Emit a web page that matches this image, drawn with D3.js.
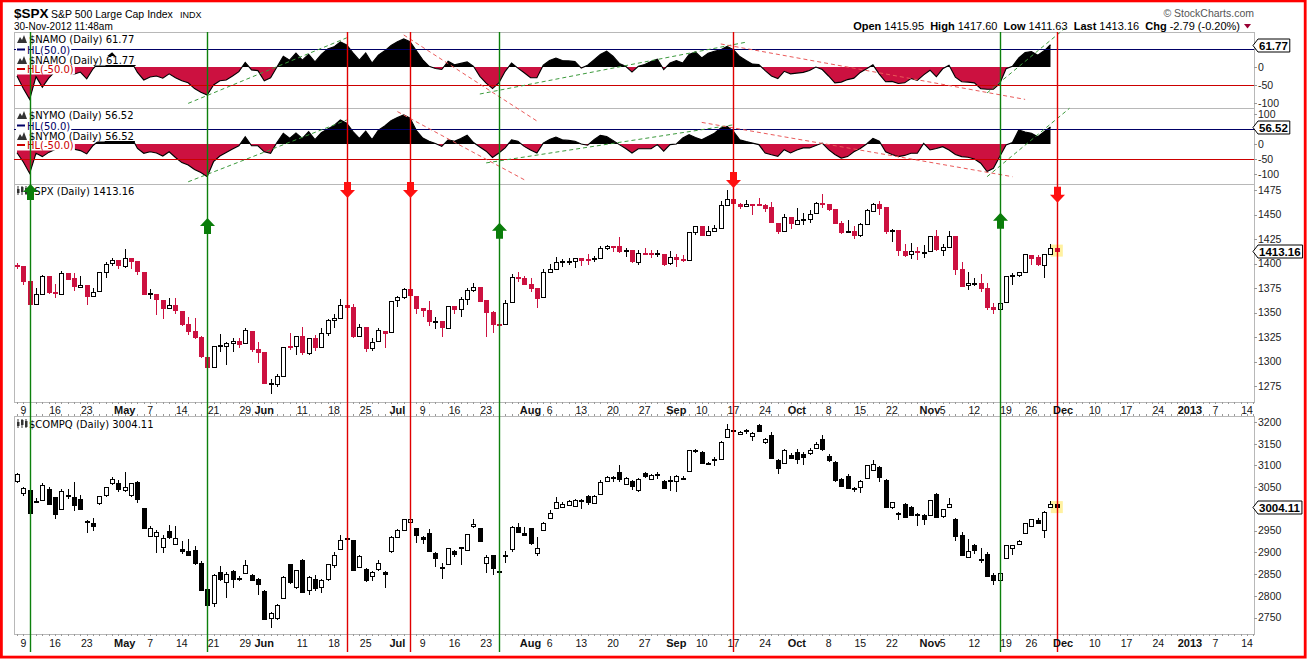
<!DOCTYPE html>
<html>
<head>
<meta charset="utf-8">
<script src="https://cdn.jsdelivr.net/npm/d3@7"></script>
<style>
body{margin:0;background:#fff}
svg{display:block;font-family:"Liberation Sans",Arial,sans-serif}
.lbl{font-family:"DejaVu Sans",Verdana,sans-serif;font-size:10px}
</style>
</head>
<body>
<svg id="chart" width="1308" height="659"></svg>
<script>
// trading calendar
var holidays = ['2012-04-06','2012-05-28','2012-07-04','2012-09-03','2012-10-29','2012-10-30','2012-11-22','2012-12-25']

// $SPX daily OHLC, 5-Apr-2012 .. 30-Nov-2012
var spxOpen = [1398.8,1397.5,1382,1359,1368.8,1387,1371,1369.6,1390.8,1385.1,
  1376.9,1378.5,1366.9,1372,1390.6,1400,1403.3,1397.9,1405.5,1402.3,
  1391.5,1368.8,1369.2,1363.2,1354.6,1358,1351.9,1338,1330.8,1324.8,
  1305,1295,1316,1316,1318.9,1320.8,1318.9,1331.3,1313,1309.9,
  1278.3,1277.8,1285.6,1316.1,1315,1325.7,1309.4,1324,1314.9,1329.2,
  1342.4,1344.8,1358,1355.4,1325.9,1334.9,1314.1,1320.6,1331.5,1330.1,
  1362.3,1365.8,1373.7,1367.1,1354.7,1353,1341.4,1341,1334.8,1356.5,
  1353.7,1363.6,1373,1376.5,1362.3,1350.5,1338,1338.2,1360,1385.9,
  1385.3,1379.3,1375.1,1365,1391,1394.5,1401.2,1402.3,1402.6,1405.9,
  1404.4,1404,1405.8,1415.8,1418.2,1418.1,1413.1,1413.5,1402,1411.1,
  1410.4,1409.3,1410.1,1400.1,1406.5,1404.9,1403.7,1432.1,1437.9,1429.1,
  1433.6,1436.6,1460.1,1465.4,1461.2,1459.5,1461,1460.3,1459.8,1457.2,
  1441.6,1433.4,1447.1,1440.9,1445,1446,1451.1,1461.4,1460.9,1455.9,
  1441.5,1432.8,1432.8,1428.8,1440.3,1454.2,1460.9,1457.3,1433.2,1433.7,
  1413.2,1409.7,1413,1411,1412.2,1427.6,1414,1417.3,1428.3,1394.5,
  1377.6,1379.9,1380,1374.6,1355.4,1353.4,1359.9,1386.8,1387.8,1391,
  1409,1406.3,1398.8,1410,1415.95]
var spxHigh = [1401,1397.5,1383,1374.7,1388,1387,1379,1392,1390.8,1390,
  1387,1378.5,1375,1391,1402,1406,1403.3,1415,1405.5,1403,
  1391.5,1373.5,1369.2,1363.2,1365,1365,1351.9,1345,1344,1326,
  1312,1316,1328,1320,1324,1324,1334.6,1331.3,1319.7,1309.9,
  1282,1287.6,1315,1329,1325.8,1335,1324.3,1327.3,1333.7,1343.3,
  1348.2,1363.5,1361.6,1358.3,1337.8,1334.9,1324.2,1334.4,1331.5,1362.2,
  1366.4,1374.8,1373.9,1367.1,1354.9,1361.5,1345,1341,1357,1357,
  1365.4,1375.3,1380.4,1376.5,1362.3,1351.5,1343.9,1363,1389.2,1391.7,
  1387.2,1385,1375.1,1394.2,1399.6,1407,1404.1,1405.9,1406,1405.9,
  1410,1407.7,1417.4,1418.7,1418.2,1426.7,1416.1,1413.5,1413.5,1416.2,
  1413.6,1413.9,1410.1,1413.1,1409.3,1408.8,1432.1,1437.9,1438.7,1437.8,
  1439.2,1463.8,1474.5,1465.6,1461.5,1465.2,1461,1467.1,1460.7,1463.2,
  1441.6,1450.2,1447.1,1457.1,1451.5,1454.3,1463.1,1471,1460.9,1455.9,
  1442.9,1443.9,1438.4,1441,1455.5,1462.2,1464,1457.3,1435.5,1433.7,
  1420,1421.1,1417.1,1418.8,1428.4,1434.3,1419.9,1433.4,1428.3,1401.2,
  1391.4,1384.9,1388.8,1380.1,1359.9,1362.1,1386.9,1389.8,1391.3,1409.2,
  1409,1409,1410,1419.7,1417.6]
var spxLow = [1394,1378,1358,1358,1368,1369,1365,1369,1383,1372,
  1376,1358,1366,1372,1385,1397,1394,1395,1394,1388,
  1367.9,1363.5,1347,1343,1354,1348,1336,1327,1323,1304,
  1291,1295,1310,1296,1310,1314,1318,1310,1298,1277,
  1266.7,1274,1285.6,1312,1307,1307,1306.6,1310.5,1314.1,1325.8,
  1334,1344.8,1346,1324.4,1325.9,1309.3,1310.3,1320.6,1313.3,1330.1,
  1355.7,1363.5,1363,1348,1345,1336,1333,1325.4,1334.8,1348,
  1345,1358,1371.2,1362.2,1325.4,1329.2,1331.5,1338,1360,1381.4,
  1379.2,1371,1354.6,1365,1391,1394.5,1396.6,1398.8,1395.6,1397.3,
  1398.8,1401.5,1404.2,1414,1412,1410.9,1406.8,1400.5,1398,1409.1,
  1405.6,1406.2,1397,1398,1396.6,1401.3,1403.7,1429,1429,1429.1,
  1433,1435,1460.1,1454.8,1456.1,1457.9,1450,1459.5,1452.1,1441.6,
  1430.5,1433.4,1435.2,1440.9,1439,1441,1451,1456.9,1453.1,1441.2,
  1430.6,1432.3,1425.5,1427,1440.3,1453.4,1450,1430,1422,1407.6,
  1407.1,1405.1,1403.3,1406,1412.2,1412.9,1408.1,1417.3,1388.1,1377.5,
  1373,1377.2,1370.9,1352.5,1348.8,1343.4,1359.9,1377.9,1386.4,1391,
  1398,1397.7,1385.4,1410,1411.63]
var spxClose = [1398.1,1382.2,1358.6,1368.7,1387.6,1370.3,1369.6,1390.8,1385.1,1376.9,
  1378.5,1366.9,1371.1,1391,1399,1403.4,1397.9,1405.8,1402.3,1391.6,
  1369.1,1369.6,1363.7,1354.6,1358,1353.4,1338.4,1330.7,1324.8,1305,
  1295.2,1316,1316.6,1318.9,1320.7,1317.8,1332.4,1313.3,1310.3,1278,
  1278.2,1285.5,1315.1,1315,1325.7,1308.9,1324.2,1314.9,1329.1,1342.8,
  1344.8,1358,1355.7,1325.5,1335,1313.7,1320,1331.9,1329,1362.2,
  1365.5,1374,1367.6,1354.7,1352.5,1341.5,1341.5,1334.8,1356.8,1353.6,
  1363.7,1372.8,1376.5,1362.7,1350.5,1338.3,1337.9,1360,1386,1385.3,
  1379.3,1375.1,1365,1391,1394.2,1401.4,1402.2,1402.8,1405.9,1404.1,
  1403.9,1405.5,1415.5,1418.2,1418.1,1413.2,1413.5,1402.1,1411.1,1410.4,
  1409.3,1410.5,1399.5,1406.6,1404.9,1403.4,1432.1,1437.9,1429.1,1433.6,
  1436.6,1460,1465.8,1461.2,1459.3,1461.1,1460.3,1460.2,1456.9,1441.6,
  1433.3,1447.2,1440.7,1444.5,1445.8,1451,1461.4,1460.9,1455.9,1441.5,
  1432.6,1432.8,1428.6,1440.1,1454.9,1460.9,1457.3,1433.2,1433.8,1413.1,
  1408.8,1413,1411.9,1412.2,1427.6,1414.2,1417.3,1428.4,1394.5,1377.5,
  1379.9,1380,1374.5,1355.5,1353.3,1359.9,1386.9,1387.8,1391,1409.2,
  1406.3,1398.9,1409.9,1416,1413.16]

// $COMPQ daily OHLC
var compOpen = [3063,3036,3044,3019,3021,3045,3027,3001,3031,3027,
  3022,2971,2967,3013,3032,3059,3059,3042,3032,3063,
  3001,2938,2938,2913,2948,2919,2907,2902,2905,2876,
  2816,2783,2854,2831,2857,2840,2852,2848,2838,2811,
  2748,2748,2796,2872,2821,2882,2815,2838,2821,2838,
  2872,2909,2932,2928,2866,2862,2844,2861,2854,2902,
  2936,2950,2969,2955,2935,2944,2898,2866,2872,2902,
  2912,2905,2961,2955,2877,2894,2857,2895,2907,2958,
  2944,2955,2899,2950,2978,3001,3004,3009,3008,3021,
  3030,3013,3036,3065,3073,3084,3059,3065,3044,3082,
  3068,3079,3065,3067,3063,3072,3086,3134,3130,3105,
  3113,3117,3165,3182,3173,3179,3167,3193,3153,3169,
  3113,3105,3124,3130,3126,3130,3141,3160,3122,3107,
  3068,3076,3047,3051,3072,3091,3096,3067,3005,2990,
  3011,3005,2988,2986,2986,3034,2982,3003,2977,2941,
  2890,2917,2884,2896,2848,2838,2886,2911,2918,2944,
  2961,2975,2951,3006,3012]
var compHigh = [3082,3051,3046,3024,3059,3050,3028,3045,3045,3061,
  3032,2975,2978,3030,3051,3074,3066,3086,3060,3064,
  3002,2960,2952,2940,2962,2961,2925,2930,2915,2879,
  2818,2850,2868,2855,2860,2845,2882,2850,2840,2813,
  2763,2782,2846,2873,2860,2884,2845,2847,2838,2874,
  2901,2940,2933,2929,2894,2865,2858,2882,2857,2937,
  2954,2977,2979,2957,2937,2953,2900,2875,2910,2905,
  2913,2943,2976,2957,2893,2895,2858,2904,2961,2967,
  2959,2957,2935,2970,2997,3027,3016,3021,3022,3022,
  3033,3031,3066,3076,3075,3101,3074,3066,3071,3085,
  3081,3086,3066,3075,3079,3075,3136,3137,3134,3109,
  3119,3157,3195,3184,3180,3185,3178,3196,3164,3177,
  3115,3138,3128,3137,3130,3140,3155,3170,3126,3110,
  3070,3080,3050,3066,3102,3113,3098,3068,3016,2993,
  3014,3007,2990,2988,3021,3036,3000,3024,2979,2946,
  2930,2920,2909,2900,2852,2854,2917,2918,2929,2968,
  2977,2978,2994,3018,3015]
var compLow = [3060,3030,2990,3013,3018,3010,2976,3000,3022,2996,
  2999,2945,2950,3010,3027,3055,3040,3040,3027,3014,
  2955,2936,2899,2899,2930,2918,2897,2891,2870,2811,
  2775,2774,2834,2794,2817,2835,2850,2836,2802,2746,
  2725,2744,2795,2828,2815,2807,2802,2812,2807,2835,
  2865,2905,2925,2857,2864,2832,2833,2858,2817,2898,
  2934,2948,2966,2921,2920,2900,2866,2838,2871,2890,
  2871,2903,2957,2925,2852,2848,2850,2875,2900,2945,
  2938,2916,2891,2948,2976,3000,3003,3007,3006,3000,
  3008,3011,3034,3063,3061,3062,3057,3044,3039,3072,
  3066,3068,3046,3042,3040,3066,3085,3128,3103,3102,
  3098,3115,3163,3178,3171,3173,3156,3178,3150,3116,
  3080,3103,3114,3103,3101,3125,3139,3134,3109,3063,
  3050,3046,3038,3037,3070,3089,3063,3004,2999,2975,
  2980,2983,2960,2964,2985,2980,2980,3001,2925,2895,
  2888,2896,2875,2846,2825,2836,2885,2895,2916,2942,
  2959,2966,2934,3004,3003]
var compClose = [3080,3047,2991,3016,3055,3011,2988,3042,3031,3008,
  3000,2970,2961,3029,3050,3069,3046,3050,3059,3024,
  2956,2957,2947,2934,2934,2933,2902,2893,2874,2813,
  2779,2848,2839,2850,2839,2838,2871,2837,2827,2747,
  2760,2779,2844,2831,2859,2809,2844,2818,2836,2872,
  2895,2929,2930,2859,2892,2836,2854,2875,2850,2935,
  2951,2976,2976,2938,2931,2902,2887,2866,2909,2896,
  2910,2942,2965,2926,2890,2863,2854,2893,2958,2946,
  2940,2920,2910,2967,2990,3015,3011,3018,3021,3021,
  3016,3030,3063,3074,3074,3067,3072,3053,3069,3074,
  3077,3081,3049,3067,3075,3069,3135,3136,3104,3104,
  3114,3155,3183,3179,3177,3182,3175,3180,3160,3117,
  3094,3136,3116,3113,3120,3136,3150,3136,3112,3065,
  3052,3049,3044,3064,3101,3104,3072,3006,3016,2990,
  2981,2986,2987,2977,3020,2982,2999,3011,2937,2896,
  2904,2905,2881,2846,2836,2853,2916,2917,2926,2967,
  2976,2968,2992,3012,3004.11]

// breadth oscillators, through 29-Nov
var namo = [-25,-60,-90,-27,-56,-31,-13,0,-13,-20,
  -14,-33,-5,15,25,39,20,16,16,-15,
  -36,-28,-25,-31,-19,-30,-38,-44,-60,-70,
  -78,-50,-38,-36,-25,-13,13,-8,-10,-38,
  -30,0,30,19,39,19,35,14,35,50,
  56,70,61,39,19,39,11,33,45,60,
  70,78,70,45,20,2,-4,-7,16,6,
  10,14,2,-26,-45,-60,-44,-12,11,-3,
  -16,-30,-30,5,18,25,18,17,15,-3,
  5,20,35,44,30,10,2,-14,2,7,
  15,22,-7,11,18,11,35,42,25,38,
  44,48,57,48,29,18,8,7,-10,-25,
  -32,-12,-19,-17,-15,-10,0,-7,-25,-44,
  -42,-35,-31,-15,-5,6,-20,-41,-40,-46,
  -44,-32,-37,-22,-9,-27,-5,5,-28,-41,
  -42,-44,-60,-62,-62,-46,-5,2,25,40,
  43,33,45,61.77]
var nymo = [-29,-60,-98,-31,-42,-28,-18,-6,-12,-17,
  -22,-33,-5,12,25,35,28,30,25,-15,
  -31,-26,-30,-40,-26,-45,-62,-70,-85,-95,
  -109,-59,-40,-28,-17,-6,24,-6,-6,-26,
  -31,5,36,19,37,19,41,15,38,50,
  62,80,69,41,19,43,15,46,60,78,
  88,97,86,45,20,9,2,-8,14,9,
  18,29,5,-10,-24,-45,-30,-13,14,9,
  -8,-20,-30,3,15,23,14,12,9,0,
  -4,14,29,25,12,-2,-15,-30,-16,-16,
  -16,-2,-24,-2,0,20,31,22,14,25,
  36,53,59,42,14,8,3,-2,-30,-36,
  -41,-19,-30,-20,-13,-13,-5,3,-19,-35,
  -47,-42,-26,-15,0,19,9,-26,-35,-42,
  -38,-31,-31,2,-20,-15,-9,-20,-35,-42,
  -44,-50,-64,-92,-81,-42,-3,5,47,40,
  36,24,41,56.52]

// dashed trend lines: [fromDay, fromValue, toDay, toValue, colour]
var namoTrends = [[27,-101,52,81,'g'],[61,89,82,-150,'r'],[73,-75,115,69,'g'],[111,64,159,-90,'r'],[153,-72,165.6,112,'g']]
var nymoTrends = [[27,-126,52,80,'g'],[60,108,80,-119,'r'],[74,-63,113,64,'g'],[108,72,157,-109,'r'],[153,-109,166,119,'g']]

// buy / sell signals; arrow tip in $SPX points
var signalDates = ['2012-04-10','2012-05-18','2012-06-20','2012-07-05','2012-07-25','2012-09-17','2012-11-16','2012-11-30']
var signalSide = ['buy','buy','sell','sell','buy','sell','buy','sell']
var arrowTips = [1481,1446.4,1466.8,1466.8,1441.6,1477,1451.8,1462]

var xTicks = [['2012-04-09','9'],['2012-04-16','16'],['2012-04-23','23'],['2012-05-01','May'],['2012-05-07','7'],
  ['2012-05-14','14'],['2012-05-21','21'],['2012-05-29','29'],['2012-06-01','Jun'],['2012-06-11','11'],
  ['2012-06-18','18'],['2012-06-25','25'],['2012-07-02','Jul'],['2012-07-09','9'],['2012-07-16','16'],
  ['2012-07-23','23'],['2012-08-01','Aug'],['2012-08-06','6'],['2012-08-13','13'],['2012-08-20','20'],
  ['2012-08-27','27'],['2012-09-04','Sep'],['2012-09-10','10'],['2012-09-17','17'],['2012-09-24','24'],
  ['2012-10-01','Oct'],['2012-10-08','8'],['2012-10-15','15'],['2012-10-22','22'],['2012-11-01','Nov'],
  ['2012-11-05','5'],['2012-11-12','12'],['2012-11-19','19'],['2012-11-26','26'],['2012-12-03','Dec'],
  ['2012-12-10','10'],['2012-12-17','17'],['2012-12-24','24'],['2013-01-01','2013'],['2013-01-07','7'],['2013-01-14','14']]

var namoTicks = [50,0,-50,-100]
var nymoTicks = [100,50,0,-50,-100]
var spxTicks = [1275,1300,1325,1350,1375,1400,1425,1450,1475]
var compTicks = [2750,2800,2850,2900,2950,3000,3050,3100,3150,3200]

var quote = [['Open','1415.95'],['High','1417.60'],['Low','1411.63'],['Last','1413.16'],['Chg','-2.79 (-0.20%)']]


var fmt = d3.utcFormat('%Y-%m-%d')
var days = d3.utcDays(new Date(Date.UTC(2012,3,5)), new Date(Date.UTC(2013,0,19)))
  .filter(d => d.getUTCDay() % 6 != 0 && holidays.indexOf(fmt(d)) < 0)
var dayIndex = {}
days.forEach((d, i) => dayIndex[fmt(d)] = i)

var RED = '#cc1140'
var L = 14, R = 1254
var svg = d3.select('#chart')
svg.append('rect').attr('width', 1308).attr('height', 659).attr('fill', '#fff')

var x = d3.scaleLinear().domain([-0.47, 195.1]).range([L, R])
var px = i => Math.round(x(i)) + 0.5

var yNamo = d3.scaleLinear().domain([-100, 100]).range([103, 31])
var yNymo = d3.scaleLinear().domain([-100, 100]).range([174, 114])
var ySpx = d3.scaleLinear().domain([1275, 1475]).range([386, 190])
var yComp = d3.scaleLinear().domain([2750, 3200]).range([617.5, 422])

var panels = [[32, 108], [108, 184], [184, 402], [416, 634]]
panels.forEach(([t, b]) => {
  svg.append('rect').attr('x', L + 0.5).attr('y', t + 0.5).attr('width', R - L).attr('height', b - t)
    .attr('fill', 'none').attr('stroke', '#b8b8b8')
})

// day ticks on price panels
;[402, 416, 634].forEach(yy => {
  svg.append('g').selectAll('line').data(d3.range(0, 196)).join('line')
    .attr('x1', px).attr('x2', px).attr('y1', yy).attr('y2', yy + (yy == 416 ? -2 : 2))
    .attr('stroke', '#999').attr('shape-rendering', 'crispEdges')
})

function mountain(g, x0, yb){
  g.append('path').attr('d', `M${x0},${yb} L${x0+3},${yb-6} L${x0+5},${yb-3} L${x0+7},${yb-8} L${x0+10},${yb} Z`)
    .attr('fill', '#333')
}

// a legend row on a white ground
function labelRow(draw){
  var g = svg.append('g'), inner = g.append('g')
  draw(inner)
  var b = inner.node().getBBox()
  g.insert('rect', 'g').attr('x', b.x - 1).attr('y', b.y + 1).attr('width', b.width + 2).attr('height', b.height - 1.5)
    .attr('fill', '#fff')
}

function osc(vals, y, top, bottom, id, name, trends){
  var last = vals[vals.length - 1]
  var y0 = y(0)
  var defs = svg.append('defs')
  defs.append('clipPath').attr('id', id + 'Up').append('rect')
    .attr('x', L).attr('y', top).attr('width', R - L).attr('height', y0 - top)
  defs.append('clipPath').attr('id', id + 'Dn').append('rect')
    .attr('x', L).attr('y', y0).attr('width', R - L).attr('height', bottom - y0)

  var area = d3.area().x((d, i) => x(i)).y0(y0).y1(d => y(d))
  var line = d3.line().x((d, i) => x(i)).y(d => y(d))
  svg.append('path').datum(vals).attr('d', area).attr('fill', '#000').attr('clip-path', `url(#${id}Up)`)
  svg.append('path').datum(vals).attr('d', area).attr('fill', RED).attr('clip-path', `url(#${id}Dn)`)
  svg.append('path').datum(vals).attr('d', line).attr('fill', 'none').attr('stroke', '#000').attr('stroke-width', 1.1)

  ;[[50, '#000066'], [-50, '#cc0000']].forEach(([v, c]) => {
    svg.append('line').attr('x1', L).attr('x2', R).attr('y1', Math.round(y(v)) + 0.5).attr('y2', Math.round(y(v)) + 0.5)
      .attr('stroke', c)
  })

  svg.append('g').selectAll('line').data(trends).join('line')
    .attr('x1', d => x(d[0])).attr('y1', d => y(d[1])).attr('x2', d => x(d[2])).attr('y2', d => y(d[3]))
    .attr('stroke', d => d[4] == 'g' ? '#3c9a3c' : '#ea5a5a').attr('stroke-dasharray', '4,3')

  labelRow(g => {
    mountain(g, 17, top + 11)
    g.append('text').attr('class', 'lbl').attr('x', 29).attr('y', top + 11).text(`${name} (Daily) ${last}`)
  })
  labelRow(g => {
    g.append('line').attr('x1', 17).attr('x2', 25).attr('y1', top + 17.5).attr('y2', top + 17.5).attr('stroke', '#000066').attr('stroke-width', 2)
    g.append('text').attr('class', 'lbl').attr('x', 27).attr('y', top + 21.5).attr('fill', '#000066').text('HL(50.0)')
  })
  labelRow(g => {
    mountain(g, 17, top + 32)
    var t = g.append('text').attr('class', 'lbl').attr('x', 29).attr('y', top + 32).text(`${name} (Daily)`)
    var w = t.node().getComputedTextLength() + 3.5
    var v = g.append('text').attr('class', 'lbl').attr('x', 29 + w).attr('y', top + 32).text(last)
    var vw = v.node().getComputedTextLength()
    g.append('line').attr('x1', 28.5 + w).attr('x2', 30 + w + vw).attr('y1', top + 33.5).attr('y2', top + 33.5).attr('stroke', '#000')
  })
  labelRow(g => {
    g.append('line').attr('x1', 17).attr('x2', 25).attr('y1', top + 37).attr('y2', top + 37).attr('stroke', '#cc0000').attr('stroke-width', 2)
    g.append('text').attr('class', 'lbl').attr('x', 27).attr('y', top + 41).attr('fill', '#cc0000').text('HL(-50.0)')
  })
}

osc(namo, yNamo, 32, 108, 'namo', '$NAMO', namoTrends)
osc(nymo, yNymo, 108, 184, 'nymo', '$NYMO', nymoTrends)

function candles(O, H, Lo, C, y, colorFn){
  var idx = d3.range(C.length)
  var n = C.length - 1
  svg.append('rect').attr('x', x(n) - 6).attr('y', y(C[n]) - 6).attr('width', 12).attr('height', 12).attr('fill', '#fff1a0')
  var g = svg.append('g').attr('shape-rendering', 'crispEdges')
  g.selectAll('line').data(idx).join('line')
    .attr('x1', px).attr('x2', px).attr('y1', i => y(H[i])).attr('y2', i => y(Lo[i]))
    .attr('stroke', colorFn)
  g.selectAll('rect').data(idx).join('rect')
    .attr('x', i => px(i) - 2).attr('width', 4)
    .attr('y', i => Math.round(y(Math.max(O[i], C[i]))) + 0.5)
    .attr('height', i => Math.max(1, Math.round(Math.abs(y(O[i]) - y(C[i])))))
    .attr('fill', i => C[i] < O[i] ? colorFn(i) : '#fff')
    .attr('stroke', colorFn)
}

candles(spxOpen, spxHigh, spxLow, spxClose, ySpx, i => spxClose[i] < (i ? spxClose[i - 1] : spxOpen[i]) ? RED : '#000')
candles(compOpen, compHigh, compLow, compClose, yComp, i => '#000')

// price panel labels
function candleIcon(x0, yb){
  ;[[0, 3, 7], [4, 1, 6], [8, 2, 8]].forEach(([dx, a, b]) => {
    svg.append('line').attr('x1', x0 + dx + 1).attr('x2', x0 + dx + 1).attr('y1', yb - 9).attr('y2', yb).attr('stroke', '#333')
    svg.append('rect').attr('x', x0 + dx).attr('y', yb - 9 + a).attr('width', 2.5).attr('height', b - a).attr('fill', '#333')
  })
}
candleIcon(17, 195)
svg.append('text').attr('class', 'lbl').attr('x', 28).attr('y', 195).text('$SPX (Daily) ' + spxClose[spxClose.length - 1])
candleIcon(17, 428)
svg.append('text').attr('class', 'lbl').attr('x', 29).attr('y', 428).text('$COMPQ (Daily) ' + compClose[compClose.length - 1])

// signal lines and arrows
signalDates.forEach((d, k) => {
  var i = dayIndex[d]
  svg.append('line').attr('x1', px(i)).attr('x2', px(i)).attr('y1', 32).attr('y2', 652)
    .attr('stroke', signalSide[k] == 'buy' ? '#0c800c' : '#e00000').attr('stroke-width', 1.4)
})
signalDates.forEach((d, k) => {
  var i = dayIndex[d], cx = px(i), ty = ySpx(arrowTips[k])
  var s = signalSide[k] == 'buy' ? 1 : -1
  var pts = [[0, 0], [7.5, 8], [3.5, 8], [3.5, 16], [-3.5, 16], [-3.5, 8], [-7.5, 8]]
  svg.append('path').attr('d', 'M' + pts.map(p => [cx + p[0], ty + s * p[1]].join(',')).join('L') + 'Z')
    .attr('fill', s > 0 ? '#0a7d0a' : '#ff1010')
})

// x axis labels
;[413.5, 647].forEach(yy => {
  svg.append('g').selectAll('text').data(xTicks).join('text')
    .attr('x', d => x(dayIndex[d[0]])).attr('y', yy).attr('text-anchor', 'middle')
    .attr('font-size', d => isNaN(+d[1]) || d[1].length == 4 ? 11 : 10.5)
    .attr('font-weight', d => isNaN(+d[1]) || d[1].length == 4 ? 'bold' : 'normal')
    .attr('fill', '#111')
    .text(d => d[1])
})

// right axes with the last-value box
function rightAxis(ticks, y, last){
  var g = svg.append('g')
  g.selectAll('line').data(ticks).join('line')
    .attr('x1', R).attr('x2', R + 3).attr('y1', d => Math.round(y(d)) + 0.5).attr('y2', d => Math.round(y(d)) + 0.5)
    .attr('stroke', '#999')
  g.selectAll('text').data(ticks.filter(d => Math.abs(y(d) - y(last)) > 9)).join('text')
    .attr('x', R + 4).attr('y', d => y(d) + 3.8).attr('font-size', 10.5).attr('fill', '#222')
    .text(d => d)

  var yc = Math.round(y(last)) + 0.5
  var t = svg.append('text').attr('x', 1259).attr('y', yc + 4).attr('font-size', 11.5).attr('font-weight', 'bold').text(last)
  var w = t.node().getComputedTextLength()
  svg.insert('path', () => t.node())
    .attr('d', `M1253,${yc} L1258,${yc - 6.5} L${1261 + w},${yc - 6.5} L${1261 + w},${yc + 6.5} L1258,${yc + 6.5} Z`)
    .attr('fill', '#fff').attr('stroke', '#000')
}
rightAxis(namoTicks, yNamo, namo[namo.length - 1])
rightAxis(nymoTicks, yNymo, nymo[nymo.length - 1])
rightAxis(spxTicks, ySpx, spxClose[spxClose.length - 1])
rightAxis(compTicks, yComp, compClose[compClose.length - 1])

// header
svg.append('text').attr('x', 14).attr('y', 18).attr('font-size', 13.5).attr('font-weight', 'bold').text('$SPX')
svg.append('text').attr('x', 51).attr('y', 17.5).attr('font-size', 10.5).text('S&P 500 Large Cap Index')
svg.append('text').attr('x', 180).attr('y', 17.5).attr('font-size', 9).text('INDX')
svg.append('text').attr('x', 14).attr('y', 29.5).attr('font-size', 10).text('30-Nov-2012 11:48am')
svg.append('text').attr('x', 1254).attr('y', 16.5).attr('text-anchor', 'end').attr('font-size', 10.5).attr('fill', '#555')
  .text('\u00a9 StockCharts.com')
var q = svg.append('text').attr('x', 1240).attr('y', 29.5).attr('text-anchor', 'end').attr('font-size', 11)
quote.forEach(([k, v], i) => {
  q.append('tspan').attr('font-weight', 'bold').text((i ? '\u00a0\u00a0' : '') + k + ' ')
  q.append('tspan').text(v)
})
svg.append('path').attr('d', 'M1244,24 L1251,24 L1247.5,28.5 Z').attr('fill', '#990033')

// frame
svg.append('rect').attr('x', 1.4).attr('y', 0.9).attr('width', 1303.8).attr('height', 656.2)
  .attr('fill', 'none').attr('stroke', '#ff0000').attr('stroke-width', 2.8)
</script>
</body>
</html>
